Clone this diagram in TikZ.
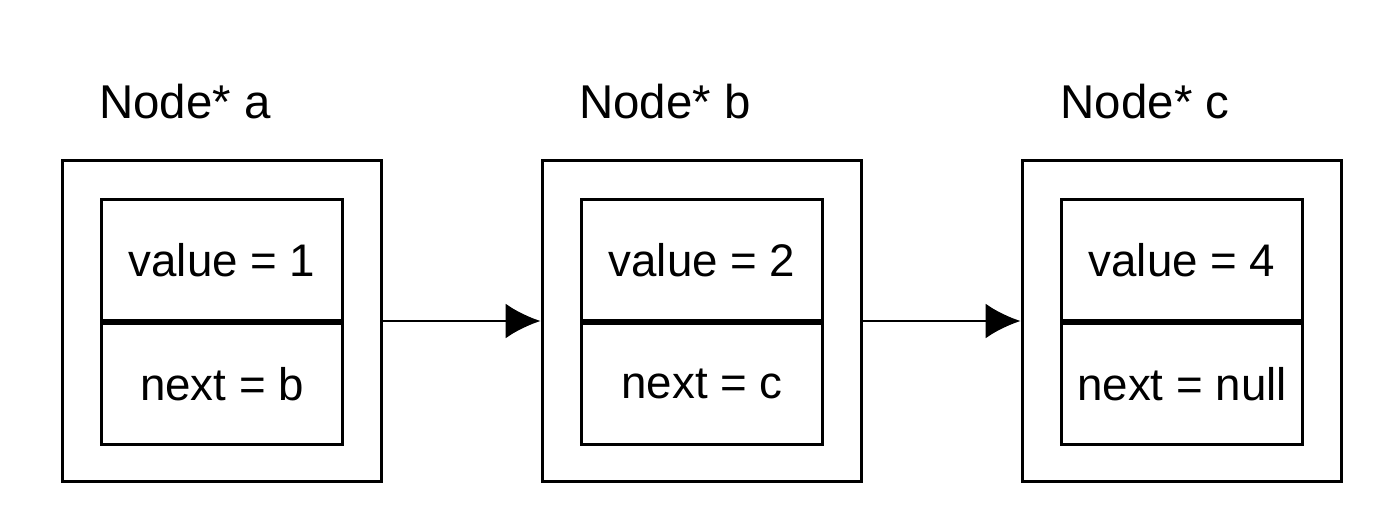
\documentclass[tikz,border=0pt]{standalone}
\usepackage{fontspec}
\setmainfont{Liberation Sans}
\usetikzlibrary{positioning}
\tikzset{
  outerbox/.style={draw=black,line width=1.7pt,minimum width=6.4cm,minimum height=6.44cm},
  cellbox/.style={draw=black,line width=1.7pt,minimum width=4.84cm,minimum height=2.42cm,
                  font=\fontsize{26}{30}\selectfont},
  namelab/.style={font=\fontsize{27}{32}\selectfont},
  link/.style={-{Latex[length=0.7cm,width=0.7cm]},line width=1.7pt}
}
\usetikzlibrary{arrows.meta}
\begin{document}
\begin{tikzpicture}[x=0.02cm,y=-0.02cm]
 \useasboundingbox (0,0) rectangle (1384,524);

 \foreach \nm/\cx/\val/\nxt in {a/222/1/b, b/702/2/c, c/1182/4/null}
 {
   \node[outerbox] (box\nm) at (\cx,321) {};
   \node[cellbox,anchor=south] (val\nm) at (\cx,322) {value = \val};
   \node[cellbox,anchor=north] (next\nm) at (\cx,322) {next = \nxt};
   \node[namelab] (name\nm) at (\cx-37,102) {Node* \nm};
 }

 \draw[link] (boxa.east) -- (boxb.west);
 \draw[link] (boxb.east) -- (boxc.west);

\end{tikzpicture}
\end{document}
